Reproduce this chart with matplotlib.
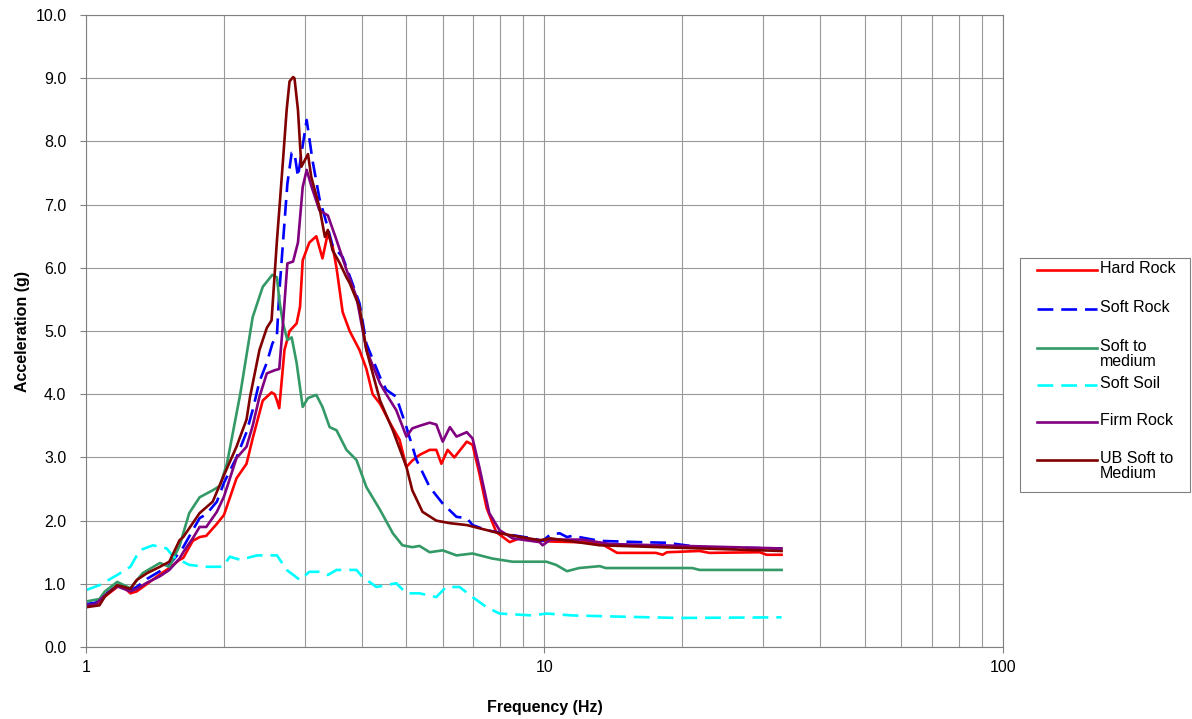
import matplotlib
matplotlib.use('Agg')
import matplotlib.pyplot as plt
from matplotlib.lines import Line2D
from matplotlib.patches import Rectangle
from matplotlib.ticker import FixedLocator, NullFormatter

plt.rcParams['font.family'] = ['Liberation Sans', 'DejaVu Sans']

# Data
hard_rock_f = [1.0, 1.05, 1.10, 1.17, 1.20, 1.25, 1.29, 1.36, 1.45, 1.52, 1.60, 1.63, 1.71, 1.77,
               1.83, 1.93, 2.0, 2.13, 2.24, 2.31, 2.43, 2.54, 2.58, 2.61, 2.64, 2.71, 2.78, 2.88,
               2.93, 2.97, 3.07, 3.18, 3.28, 3.37, 3.45, 3.52, 3.63, 3.76, 3.95, 4.09, 4.22, 4.38,
               4.60, 4.83, 5.0, 5.15, 5.34, 5.62, 5.81, 5.96, 6.15, 6.36, 6.77, 6.97, 7.21, 7.48,
               7.85, 8.4, 8.82, 9.42, 10.3, 13.2, 14.4, 17.5, 18.1, 18.5, 21.8, 22.9, 29.5, 30.5, 32.9]
hard_rock_a = [0.64, 0.67, 0.80, 0.95, 0.97, 0.85, 0.88, 1.00, 1.15, 1.25, 1.38, 1.41, 1.68, 1.74,
               1.76, 1.95, 2.09, 2.67, 2.9, 3.3, 3.9, 4.03, 4.0, 3.9, 3.78, 4.7, 5.0, 5.12,
               5.38, 6.12, 6.4, 6.5, 6.15, 6.55, 6.35, 6.0, 5.3, 5.0, 4.7, 4.4, 4.0, 3.85,
               3.55, 3.28, 2.85, 2.95, 3.04, 3.12, 3.12, 2.9, 3.12, 3.0, 3.25, 3.2, 2.75, 2.2,
               1.82, 1.66, 1.72, 1.7, 1.67, 1.65, 1.49, 1.49, 1.46, 1.5, 1.52, 1.49, 1.5, 1.46, 1.46]

soft_rock_f = [1.0, 1.05, 1.10, 1.17, 1.25, 1.29, 1.36, 1.45, 1.52, 1.60, 1.63, 1.71, 1.77, 1.83,
               1.93, 2.0, 2.13, 2.24, 2.31, 2.39, 2.48, 2.55, 2.61, 2.64, 2.69, 2.75, 2.81, 2.85,
               2.90, 2.95, 3.03, 3.12, 3.23, 3.35, 3.45, 3.63, 3.81, 3.95, 4.09, 4.38, 4.52, 4.75,
               5.0, 5.26, 5.62, 6.0, 6.43, 6.77, 6.97, 7.48, 8.52, 9.42, 9.91, 10.3, 10.8, 11.2,
               11.5, 13.2, 16.1, 18.5, 21.8, 32.9]
soft_rock_a = [0.68, 0.70, 0.83, 0.97, 0.90, 0.95, 1.08, 1.2, 1.3, 1.5, 1.58, 1.85, 2.04, 2.1,
               2.3, 2.6, 3.0, 3.4, 3.75, 4.2, 4.5, 4.8, 4.95, 5.6, 6.4, 7.33, 7.82, 7.82,
               7.44, 7.8, 8.34, 7.7, 7.1, 6.7, 6.35, 6.17, 5.76, 5.44, 4.8, 4.27, 4.07, 3.96,
               3.48, 2.96, 2.53, 2.27, 2.06, 2.04, 1.93, 1.85, 1.77, 1.72, 1.68, 1.78, 1.8, 1.74,
               1.76, 1.68, 1.66, 1.65, 1.58, 1.56]

soft_medium_f = [1.0, 1.07, 1.10, 1.17, 1.25, 1.33, 1.45, 1.52, 1.60, 1.63, 1.68, 1.77, 1.89, 1.96,
                 2.03, 2.17, 2.31, 2.43, 2.55, 2.61, 2.64, 2.69, 2.75, 2.81, 2.88, 2.97, 3.05, 3.18,
                 3.28, 3.40, 3.52, 3.70, 3.89, 4.09, 4.38, 4.67, 4.90, 5.15, 5.34, 5.62, 6.0, 6.43,
                 6.97, 7.70, 8.52, 10.1, 10.6, 11.2, 11.9, 13.2, 13.6, 21.0, 21.8, 32.9]
soft_medium_a = [0.72, 0.76, 0.88, 1.03, 0.93, 1.17, 1.33, 1.27, 1.6, 1.8, 2.12, 2.37, 2.48, 2.55,
                 2.9, 4.0, 5.22, 5.7, 5.89, 5.85, 5.5, 5.12, 4.86, 4.9, 4.5, 3.8, 3.94, 3.99,
                 3.8, 3.48, 3.43, 3.12, 2.96, 2.53, 2.17, 1.8, 1.61, 1.58, 1.6, 1.5, 1.53, 1.45,
                 1.48, 1.4, 1.35, 1.35, 1.3, 1.2, 1.25, 1.28, 1.25, 1.25, 1.22, 1.22]

soft_soil_f = [1.0, 1.07, 1.17, 1.25, 1.31, 1.40, 1.50, 1.55, 1.68, 1.83, 1.99, 2.06, 2.17, 2.36,
               2.61, 2.74, 2.93, 3.07, 3.23, 3.37, 3.52, 3.89, 4.01, 4.30, 4.52, 4.75, 5.0, 5.34,
               5.81, 6.1, 6.53, 6.97, 7.48, 7.98, 9.42, 10.1, 11.5, 14.8, 19.7, 32.9]
soft_soil_a = [0.9, 0.98, 1.14, 1.27, 1.53, 1.61, 1.56, 1.43, 1.3, 1.27, 1.27, 1.43, 1.38, 1.45,
               1.45, 1.22, 1.06, 1.19, 1.19, 1.14, 1.22, 1.22, 1.11, 0.95, 0.98, 1.01, 0.85, 0.85,
               0.79, 0.95, 0.95, 0.79, 0.63, 0.53, 0.5, 0.53, 0.5, 0.48, 0.46, 0.47]

firm_rock_f = [1.0, 1.05, 1.10, 1.17, 1.25, 1.29, 1.36, 1.45, 1.52, 1.60, 1.63, 1.71, 1.77, 1.83,
               1.93, 2.0, 2.13, 2.24, 2.31, 2.39, 2.48, 2.58, 2.64, 2.69, 2.75, 2.83, 2.90, 2.97,
               3.03, 3.10, 3.23, 3.37, 3.52, 3.70, 3.89, 4.09, 4.38, 4.52, 4.75, 5.0, 5.15, 5.34,
               5.62, 5.81, 6.0, 6.22, 6.43, 6.77, 6.97, 7.21, 7.58, 7.98, 8.52, 9.76, 9.91, 10.3,
               12.1, 13.9, 32.9]
firm_rock_a = [0.66, 0.68, 0.82, 0.96, 0.88, 0.92, 1.02, 1.12, 1.22, 1.4, 1.5, 1.72, 1.9, 1.9,
               2.14, 2.38, 2.99, 3.17, 3.5, 3.96, 4.33, 4.38, 4.4, 5.12, 6.07, 6.1, 6.4, 7.28,
               7.55, 7.3, 6.91, 6.83, 6.44, 5.97, 5.54, 4.7, 4.17, 4.0, 3.75, 3.33, 3.46, 3.5,
               3.55, 3.52, 3.25, 3.48, 3.33, 3.4, 3.3, 2.85, 2.12, 1.85, 1.72, 1.66, 1.61, 1.7,
               1.7, 1.63, 1.56]

ub_soft_f = [1.0, 1.07, 1.10, 1.17, 1.25, 1.29, 1.36, 1.45, 1.52, 1.60, 1.63, 1.77, 1.89, 2.0,
             2.13, 2.24, 2.28, 2.39, 2.48, 2.54, 2.58, 2.61, 2.64, 2.69, 2.74, 2.78, 2.83, 2.85,
             2.90, 2.95, 3.00, 3.05, 3.10, 3.23, 3.32, 3.37, 3.45, 3.58, 3.70, 3.76, 3.95, 4.09,
             4.38, 4.67, 5.0, 5.15, 5.42, 5.81, 6.22, 6.77, 7.21, 7.98, 9.76, 10.3, 13.2, 32.9]
ub_soft_a = [0.63, 0.66, 0.8, 0.98, 0.92, 1.06, 1.17, 1.27, 1.35, 1.69, 1.74, 2.12, 2.3, 2.72,
             3.17, 3.6, 3.96, 4.7, 5.05, 5.17, 5.9, 6.44, 6.91, 7.7, 8.5, 8.95, 9.02, 9.0,
             8.5, 7.6, 7.7, 7.8, 7.44, 6.96, 6.49, 6.6, 6.28, 6.07, 5.85, 5.76, 5.38, 4.7,
             3.9, 3.43, 2.85, 2.48, 2.14, 2.0, 1.96, 1.93, 1.88, 1.8, 1.69, 1.72, 1.61, 1.52]

labels = ['Hard Rock', 'Soft Rock', 'Soft to\nmedium', 'Soft Soil', 'Firm Rock', 'UB Soft to\nMedium']
colors = ['#FF0000', '#0000FF', '#339966', '#00FFFF', '#800080', '#800000']
styles = ['-', '--', '-', '--', '-', '-']
series = [(hard_rock_f, hard_rock_a), (soft_rock_f, soft_rock_a), (soft_medium_f, soft_medium_a),
          (soft_soil_f, soft_soil_a), (firm_rock_f, firm_rock_a), (ub_soft_f, ub_soft_a)]

fig = plt.figure(figsize=(11.92, 7.19), dpi=100)
ax = fig.add_axes([0.0721, 0.1001, 0.7693, 0.8789])

for (f, a), c, ls in zip(series, colors, styles):
    kw = dict(dashes=(6, 3)) if ls == '--' else {}
    ax.plot(f, a, color=c, linestyle=ls, linewidth=1.9, **kw)

ax.set_xscale('log')
ax.set_xlim(1, 100)
ax.set_ylim(0, 10)
ax.xaxis.set_major_locator(FixedLocator([1, 10, 100]))
ax.xaxis.set_minor_locator(FixedLocator([m * d for d in (1, 10) for m in range(2, 10)]))
ax.xaxis.set_minor_formatter(NullFormatter())
ax.set_xticklabels(['1', '10', '100'])
ax.set_yticks([i for i in range(11)])
ax.set_yticklabels(['%.1f' % i for i in range(11)])
ax.grid(True, which='both', color='#999999', linewidth=0.8)
ax.set_axisbelow(True)
ax.tick_params(which='both', direction='out', length=4, color='#808080', labelsize=11.5)
ax.tick_params(which='minor', length=0)
ax.tick_params(axis='x', pad=5)
ax.tick_params(axis='y', pad=10)
for s in ax.spines.values():
    s.set_color('#808080')

ax.set_xlabel('Frequency (Hz)', fontsize=11.5, fontweight='bold', labelpad=18)
ax.set_ylabel('Acceleration (g)', fontsize=11.5, fontweight='bold', labelpad=4)

# legend box drawn by hand so that wrapped labels keep even row spacing
fig.add_artist(Rectangle((0.8557, 0.3157), 0.1426, 0.3254, transform=fig.transFigure,
                         facecolor='white', edgecolor='#808080', linewidth=0.8))
row_y = [0.6245, 0.5703, 0.5160, 0.4646, 0.4131, 0.3603]
for y, lab, c, ls in zip(row_y, labels, colors, styles):
    kw = dict(dashes=(6, 3)) if ls == '--' else {}
    fig.add_artist(Line2D([0.8700, 0.9200], [y, y], transform=fig.transFigure,
                          color=c, linestyle=ls, linewidth=1.9, **kw))
    fig.text(0.9225, y + 0.012, lab, fontsize=11.5, va='top', ha='left', linespacing=0.95)

fig.savefig('out.png', dpi=100)
